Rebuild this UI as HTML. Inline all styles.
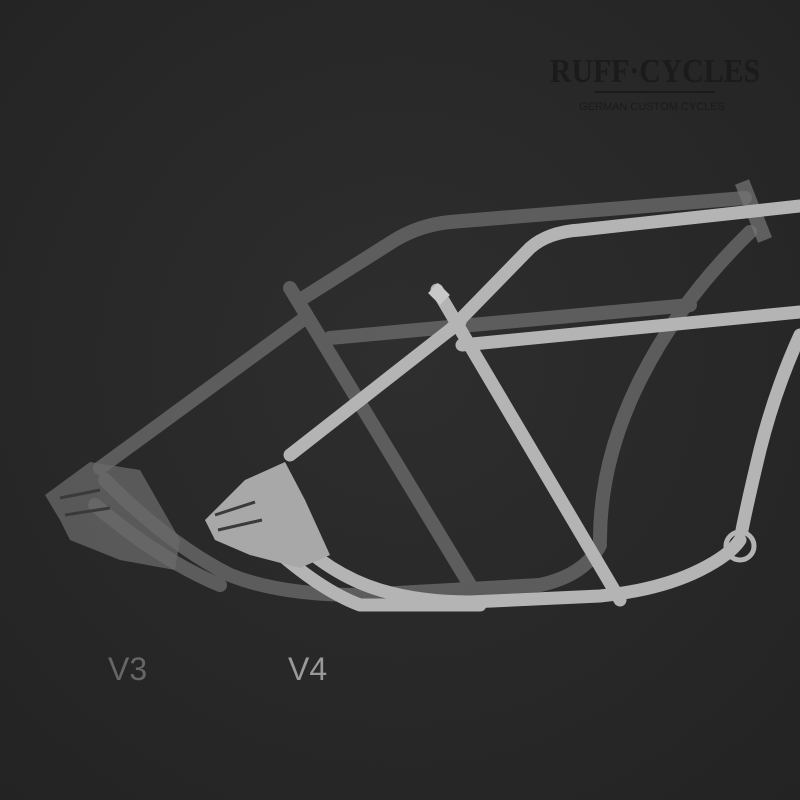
<!DOCTYPE html>
<html><head><style>
html,body{margin:0;padding:0;background:#2b2b2b}
svg{display:block}
</style></head><body>
<svg width="800" height="800" viewBox="0 0 800 800" xmlns="http://www.w3.org/2000/svg">
<defs>
<radialGradient id="bg" cx="0.5" cy="0.45" r="0.75">
<stop offset="0" stop-color="#2e2e2e"/><stop offset="1" stop-color="#232323"/>
</radialGradient>
</defs>
<rect width="800" height="800" fill="url(#bg)"/>
<!-- logo -->
<text x="655" y="82" text-anchor="middle" font-family="Liberation Serif, serif" font-weight="bold" font-size="34" fill="#1b1b1b" textLength="210" lengthAdjust="spacingAndGlyphs">RUFF·CYCLES</text>
<line x1="595" y1="92" x2="715" y2="92" stroke="#1b1b1b" stroke-width="2"/>
<text x="652" y="110" text-anchor="middle" font-family="Liberation Sans, sans-serif" font-size="11" fill="#1b1b1b">GERMAN CUSTOM CYCLES</text>

<!-- V3 frame (ghosted) -->
<g fill="none" stroke="#6e6e6e" stroke-width="14" stroke-linecap="round" stroke-linejoin="round" opacity="0.75">
<path d="M300,300 L395,240 Q420,225 450,222 L745,198"/>
<path d="M290,288 L470,585"/>
<path d="M330,338 L690,305"/>
<path d="M750,232 Q680,300 640,380 Q600,460 600,540"/>
<path d="M305,318 L100,468"/>
<path d="M105,480 Q170,545 230,575 Q280,595 360,595 L540,585 Q585,575 600,545"/>
<path d="M95,505 Q160,560 220,585"/>
</g>
<line x1="742" y1="182" x2="765" y2="240" stroke="#777" stroke-width="15" opacity="0.7"/>
<path d="M45,495 L90,462 L140,470 L180,540 L175,570 L120,560 L70,540 L60,520 Z" fill="#6a6a6a" opacity="0.75"/>

<!-- V4 frame -->
<g fill="none" stroke="#b4b4b4" stroke-width="13" stroke-linecap="round" stroke-linejoin="round">
<path d="M450,330 L530,248 Q548,232 580,230 L800,206"/>
<path d="M437,290 L620,600"/>
<path d="M462,345 L800,312"/>
<path d="M800,335 Q775,390 760,450 Q748,500 742,530"/>
<path d="M460,322 L290,455"/>
<path d="M285,530 Q330,575 380,590 Q420,602 470,602 L600,596 Q660,590 700,570 Q730,555 740,540"/>
<path d="M270,545 Q320,590 360,605 L480,605"/>
</g>
<circle cx="740" cy="546" r="14" fill="none" stroke="#b4b4b4" stroke-width="5"/>
<line x1="433" y1="288" x2="445" y2="300" stroke="#c8c8c8" stroke-width="14"/>
<path d="M205,520 L245,480 L285,462 L305,500 L330,555 L300,568 L250,555 L215,540 Z" fill="#a8a8a8"/>
<g stroke="#3a3a3a" stroke-width="3">
<line x1="215" y1="515" x2="255" y2="502"/><line x1="218" y1="530" x2="262" y2="520"/><line x1="60" y1="498" x2="100" y2="490"/><line x1="65" y1="515" x2="110" y2="508"/>
</g>

<text x="108" y="680" font-family="Liberation Sans, sans-serif" font-size="32" fill="#666">V3</text>
<text x="288" y="680" font-family="Liberation Sans, sans-serif" font-size="32" fill="#999">V4</text>
</svg>
</body></html>
